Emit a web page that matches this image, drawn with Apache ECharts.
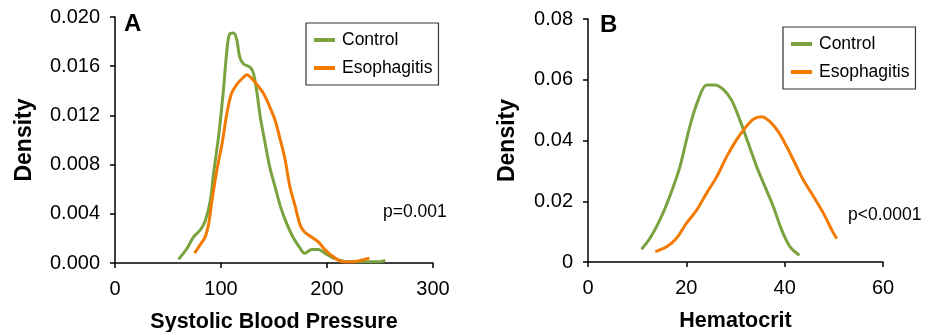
<!DOCTYPE html>
<html><head><meta charset="utf-8">
<script src="https://cdn.jsdelivr.net/npm/echarts@6/dist/echarts.min.js"></script>
<style>html,body{margin:0;padding:0;background:#fff}#c{width:934px;height:332px}</style>
</head><body><div id="c"></div>
<script>
// Panel A: Systolic blood pressure densities
const sbpControl = [[60,0.0003],[68,0.0012],[74,0.0021],[80.5,0.0027],[85,0.0034],[90,0.0051],[93,0.0073],[98,0.0105],[102,0.0138],[105.6,0.0173],[108,0.0186],[112,0.0187],[115,0.0181],[117.5,0.0168],[121,0.0162],[127.6,0.0159],[130.7,0.0154],[134,0.0138],[137,0.0119],[141.7,0.0097],[146,0.0078],[151,0.0062],[156,0.0046],[162,0.0032],[168,0.0021],[174.6,0.0012],[179,0.0008],[185.6,0.0011],[192,0.0011],[198,0.0008],[206,0.0004],[218.5,0.0001],[237,0.0001],[250,0.0001],[255,0.0002]];
const sbpEso = [[75,0.0008],[80.5,0.0015],[85,0.0021],[88.4,0.0032],[91.5,0.0051],[96,0.0075],[101,0.0097],[105.6,0.0122],[110,0.0138],[115.7,0.0146],[120,0.0150],[124.5,0.0153],[129,0.0150],[134,0.0145],[140,0.0138],[146,0.0127],[151,0.0116],[156,0.0100],[160.5,0.0084],[165,0.0062],[170,0.0046],[174.6,0.0031],[179,0.0025],[185.6,0.0021],[192,0.0017],[198,0.0011],[206,0.0005],[215,0.0001],[225,0.0001],[231,0.0002],[240,0.0004]];
// Panel B: Hematocrit densities
const hctControl = [[10.9,0.0042],[12.6,0.0078],[14.6,0.0138],[16.6,0.0215],[18.7,0.0314],[20.7,0.0446],[22.4,0.0533],[24.1,0.0583],[25.8,0.0583],[27.5,0.0568],[29.2,0.0533],[30.9,0.0467],[32.6,0.0391],[34.3,0.0314],[36.0,0.0248],[37.7,0.0182],[39.4,0.0105],[41.1,0.0050],[43.0,0.0022]];
const hctEso = [[13.7,0.0034],[16.0,0.0050],[18.0,0.0078],[20.0,0.0127],[22.1,0.0171],[24.1,0.0226],[26.2,0.0281],[28.2,0.0347],[30.2,0.0402],[31.9,0.0440],[33.6,0.0470],[35.3,0.0478],[37.0,0.0462],[38.7,0.0429],[40.4,0.0380],[42.1,0.0325],[43.8,0.0270],[45.9,0.0215],[47.9,0.0160],[49.6,0.0105],[50.6,0.0077]];
const seriesNames = ['Control','Esophagitis'];
const pTexts = ['p=0.001','p<0.0001'];
const panelLabels = ['A','B'];
const xTitles = ['Systolic Blood Pressure','Hematocrit'];
const yTitle = 'Density';

const GREEN = '#7aa33f', ORANGE = '#f27a00';
const FONT = 'Liberation Sans, Arial, sans-serif';
const chart = echarts.init(document.getElementById('c'));

function xAxis(i, max, interval, nameGap) {
  return {type:'value', gridIndex:i, min:0, max:max, interval:interval,
    name:xTitles[i], nameLocation:'middle', nameGap:nameGap,
    nameTextStyle:{fontFamily:FONT, fontSize:21.5, fontWeight:'bold', color:'#000'},
    axisLine:{lineStyle:{color:'#000', width:1.5}},
    axisTick:{show:true, length:5, lineStyle:{color:'#000', width:1.5}},
    axisLabel:{fontFamily:FONT, fontSize:20, color:'#000', margin:16},
    splitLine:{show:false}};
}
function yAxis(i, max, interval, fmt, nameGap) {
  return {type:'value', gridIndex:i, min:0, max:max, interval:interval,
    name:yTitle, nameLocation:'middle', nameGap:nameGap,
    nameTextStyle:{fontFamily:FONT, fontSize:23, fontWeight:'bold', color:'#000'},
    axisLine:{show:true, lineStyle:{color:'#000', width:1.5}},
    axisTick:{show:true, length:5, lineStyle:{color:'#000', width:1.5}},
    axisLabel:{fontFamily:FONT, fontSize:20, color:'#000', margin:15, formatter:fmt},
    splitLine:{show:false}};
}
function line(name, data, i, color) {
  return {type:'line', name:name, xAxisIndex:i, yAxisIndex:i, data:data,
    symbol:'none', smooth:0.3, lineStyle:{color:color, width:3}, itemStyle:{color:color}};
}
function legend(left, top) {
  return {orient:'vertical', left:left, top:top, data:seriesNames, icon:'rect',
    itemWidth:21, itemHeight:4, itemGap:10, padding:[8,6,8,8],
    borderColor:'#333', borderWidth:1.2, borderRadius:0,
    textStyle:{fontFamily:FONT, fontSize:17.5, color:'#000', padding:[0,0,0,2]}};
}

chart.setOption({
  animation:false,
  textStyle:{fontFamily:FONT},
  grid:[{left:115, top:17, width:318, height:246, containLabel:false, outerBoundsMode:'none'},
        {left:588, top:19, width:295, height:243, containLabel:false, outerBoundsMode:'none'}],
  xAxis:[xAxis(0,300,100,48), xAxis(1,60,20,48)],
  yAxis:[yAxis(0,0.020,0.004,v=>v.toFixed(3),79), yAxis(1,0.08,0.02,v=>v===0?'0':v.toFixed(2),69)],
  legend:[legend(306,23), legend(783,27)],
  series:[line(seriesNames[0],sbpControl,0,GREEN), line(seriesNames[1],sbpEso,0,ORANGE),
          line(seriesNames[0],hctControl,1,GREEN), line(seriesNames[1],hctEso,1,ORANGE)],
  graphic:[
    {type:'text', left:124, top:12, style:{text:panelLabels[0], font:'bold 24px '+FONT, fill:'#000'}},
    {type:'text', left:600, top:13, style:{text:panelLabels[1], font:'bold 24px '+FONT, fill:'#000'}},
    {type:'text', left:383, top:203, style:{text:pTexts[0], font:'17.5px '+FONT, fill:'#000'}},
    {type:'text', left:848, top:206, style:{text:pTexts[1], font:'17.5px '+FONT, fill:'#000'}}
  ]
});
</script></body></html>
